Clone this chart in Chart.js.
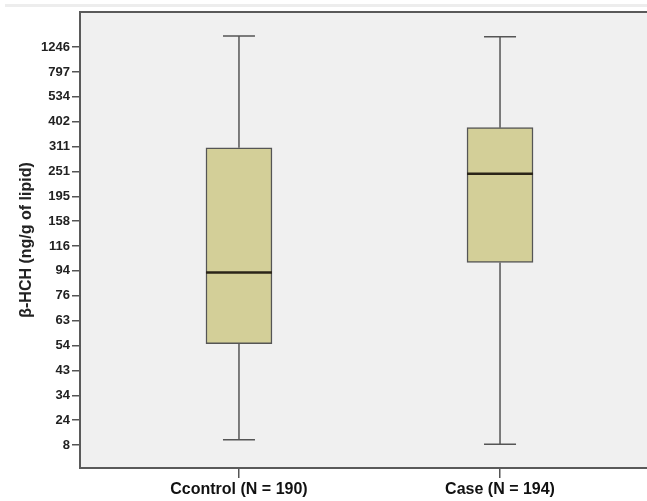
<!DOCTYPE html>
<html><head><meta charset="utf-8">
<script src="https://cdn.jsdelivr.net/npm/chart.js@4/dist/chart.umd.min.js"></script>
<style>
html,body{margin:0;padding:0;background:#fff;overflow:hidden;width:647px;height:501px;position:relative}
#strip{position:absolute;left:5px;top:4px;width:642px;height:3px;background:#ededed}
#wrap{position:absolute;left:0;top:0;width:680px;height:501px}
</style></head><body>
<div id="strip"></div>
<div id="wrap"><canvas id="c"></canvas></div>
<script>
const categories = ['Ccontrol (N = 190)', 'Case (N = 194)'];
const yTickLabels = ['8','24','34','43','54','63','76','94','116','158','195','251','311','402','534','797','1246'];
// box-plot summaries, expressed in rank units of the y tick labels (0 = "8", 16 = "1246")
const whiskerLow  = [0.21, 0.03];
const q1          = [4.07, 7.34];
const median      = [6.94, 10.91];
const q3          = [11.95, 12.76];
const whiskerHigh = [16.45, 16.41];

const FRAME = '#5a5a5a';
const boxPlugin = {
  id: 'boxParts',
  beforeDraw(chart) {
    const {ctx, chartArea: a} = chart;
    ctx.save();
    ctx.fillStyle = '#f0f0f0';
    ctx.fillRect(a.left, a.top, a.right - a.left, a.bottom - a.top);
    ctx.restore();
  },
  beforeDatasetsDraw(chart) {
    const {ctx, scales: {x, y}} = chart;
    ctx.save();
    ctx.strokeStyle = '#555';
    ctx.lineWidth = 1.5;
    categories.forEach((c, i) => {
      const px = x.getPixelForValue(i);
      const segs = [[whiskerHigh[i], q3[i]], [q1[i], whiskerLow[i]]];
      segs.forEach(([a, b]) => {
        ctx.beginPath();
        ctx.moveTo(px, y.getPixelForValue(a));
        ctx.lineTo(px, y.getPixelForValue(b));
        ctx.stroke();
      });
      [whiskerHigh[i], whiskerLow[i]].forEach(v => {
        const py = y.getPixelForValue(v);
        ctx.beginPath();
        ctx.moveTo(px - 16, py);
        ctx.lineTo(px + 16, py);
        ctx.stroke();
      });
    });
    ctx.restore();
  },
  afterDatasetsDraw(chart) {
    const {ctx, chartArea: a, scales: {x, y}} = chart;
    ctx.save();
    ctx.strokeStyle = '#2a2418';
    ctx.lineWidth = 2.5;
    categories.forEach((c, i) => {
      const px = x.getPixelForValue(i);
      const py = y.getPixelForValue(median[i]);
      ctx.beginPath();
      ctx.moveTo(px - 33, py);
      ctx.lineTo(px + 33, py);
      ctx.stroke();
    });
    ctx.strokeStyle = FRAME;
    ctx.lineWidth = 2;
    ctx.strokeRect(a.left, a.top, a.right - a.left, a.bottom - a.top);
    ctx.restore();
  }
};

new Chart(document.getElementById('c'), {
  type: 'bar',
  data: {
    datasets: [{
      data: categories.map((c, i) => ({x: i, y: [q1[i], q3[i]]})),
      backgroundColor: '#d3cf98',
      borderColor: '#555',
      borderWidth: 1.5,
      borderSkipped: false,
      barThickness: 66
    }]
  },
  plugins: [boxPlugin],
  options: {
    responsive: true,
    maintainAspectRatio: false,
    devicePixelRatio: 1,
    animation: false,
    layout: {padding: {top: 12, right: 15, left: 0, bottom: 0}},
    plugins: {legend: {display: false}, tooltip: {enabled: false}},
    scales: {
      x: {
        type: 'linear',
        offset: false,
        min: -0.609,
        max: 1.632,
        afterBuildTicks(s) { s.ticks = categories.map((c, i) => ({value: i})); },
        afterFit(s) { s.height = 33; },
        ticks: {
          callback: v => categories[v],
          color: '#111',
          font: {family: 'Liberation Sans', size: 16, weight: 'bold'},
          padding: 2,
          maxRotation: 0,
          autoSkip: false
        },
        grid: {offset: false, drawOnChartArea: false, drawTicks: true, tickLength: 10, color: '#555', lineWidth: 1.5},
        border: {display: false}
      },
      y: {
        type: 'linear',
        min: -0.925,
        max: 17.41,
        afterBuildTicks(s) { s.ticks = yTickLabels.map((l, i) => ({value: i})); },
        afterFit(s) { s.width = 80; },
        ticks: {
          callback: v => yTickLabels[v],
          color: '#222',
          font: {family: 'Liberation Sans', size: 13, weight: 'bold'},
          padding: 2,
          autoSkip: false
        },
        grid: {drawOnChartArea: false, drawTicks: true, tickLength: 8, color: '#555', lineWidth: 1.5},
        border: {display: false},
        title: {
          display: true,
          text: 'β-HCH (ng/g of lipid)',
          color: '#222',
          font: {family: 'Liberation Sans', size: 16, weight: 'bold'},
          padding: {top: 17, bottom: 0}
        }
      }
    }
  }
});
</script>
</body></html>
